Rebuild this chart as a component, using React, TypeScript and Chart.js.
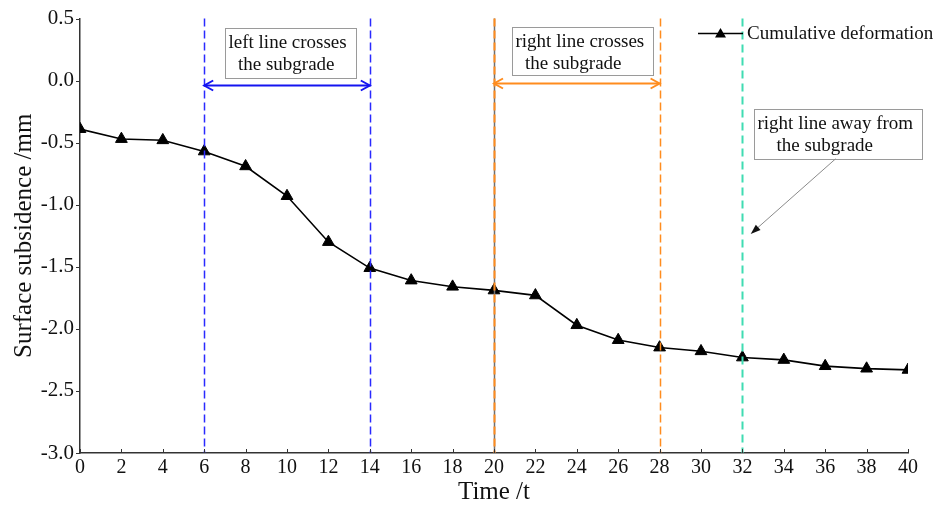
import React, { useEffect, useRef } from "react";
import { Chart, registerables } from "chart.js";

Chart.register(...registerables);

// ---- data ----
const timeSteps = [0, 2, 4, 6, 8, 10, 12, 14, 16, 18, 20, 22, 24, 26, 28, 30, 32, 34, 36, 38, 40];
const cumulativeDeformation = [
  -0.39, -0.47, -0.48, -0.57, -0.69, -0.93, -1.3, -1.51, -1.61, -1.66, -1.69,
  -1.73, -1.97, -2.09, -2.15, -2.18, -2.23, -2.25, -2.3, -2.32, -2.33,
];
const seriesLabel = "Cumulative deformation";
const xTitle = "Time /t";
const yTitle = "Surface subsidence /mm";

// phase boundaries (time values)
const blueLines = [6, 14];
const orangeSolidLines = [20];
const orangeDashedLines = [28];
const turquoiseLines = [32];

// span arrows: [from, to, y]
const leftSpan = [6, 14, -0.035];
const rightSpan = [20, 28, -0.015];

// note boxes: [x0, x1, yTop, yBottom]
const leftNoteBox = [7.0, 13.33, 0.428, 0.025];
const leftNoteText = ["left line crosses", "  the subgrade"];
const rightNoteBox = [20.87, 27.68, 0.436, 0.043];
const rightNoteText = ["right line crosses", "  the subgrade"];
const awayNoteBox = [32.56, 40.68, -0.23, -0.63];
const awayNoteText = ["right line away from", "    the subgrade"];
// pointer arrow: [x0, y0, x1, y1]
const awayPointer = [36.5, -0.63, 32.4, -1.235];

const SERIF = '"Liberation Serif", "Times New Roman", Times, serif';
const BLUE = "#2a2aff";
const BLUE_ARROW = "#1414f0";
const ORANGE = "#ff8c1e";
const TURQ = "#3fdcb2";

function openHead(ctx: CanvasRenderingContext2D, tx: number, ty: number, dir: number) {
  ctx.beginPath();
  ctx.moveTo(tx - dir * 9, ty - 5);
  ctx.lineTo(tx, ty);
  ctx.lineTo(tx - dir * 9, ty + 5);
  ctx.stroke();
}

const annotationPlugin = {
  id: "phaseAnnotations",
  afterDatasetsDraw(chart: any) {
    const { ctx } = chart;
    const xs = chart.scales.x;
    const ys = chart.scales.y;
    const top = ys.getPixelForValue(0.5);
    const bottom = ys.getPixelForValue(-3);
    ctx.save();

    const vline = (v: number, color: string, width: number, dash: number[]) => {
      const px = Math.round(xs.getPixelForValue(v)) + 0.5;
      ctx.strokeStyle = color;
      ctx.lineWidth = width;
      ctx.setLineDash(dash);
      ctx.beginPath();
      ctx.moveTo(px, top);
      ctx.lineTo(px, bottom);
      ctx.stroke();
    };
    blueLines.forEach((v) => vline(v, BLUE, 1.5, [8, 4]));
    orangeSolidLines.forEach((v) => {
      vline(v, "#707070", 1.5, []);
      vline(v, ORANGE, 2, [8, 4]);
    });
    orangeDashedLines.forEach((v) => vline(v, ORANGE, 1.5, [8, 4]));
    turquoiseLines.forEach((v) => vline(v, TURQ, 2, [8, 5]));
    ctx.setLineDash([]);

    // span arrows
    const span = (s: number[], color: string) => {
      const x0 = xs.getPixelForValue(s[0]);
      const x1 = xs.getPixelForValue(s[1]);
      const py = Math.round(ys.getPixelForValue(s[2])) + 0.5;
      ctx.strokeStyle = color;
      ctx.lineWidth = 2;
      ctx.beginPath();
      ctx.moveTo(x0, py);
      ctx.lineTo(x1, py);
      ctx.stroke();
      openHead(ctx, x0, py, -1);
      openHead(ctx, x1, py, 1);
    };
    span(leftSpan, BLUE_ARROW);
    span(rightSpan, ORANGE);

    // note boxes
    const note = (b: number[], lines: string[]) => {
      const x0 = Math.round(xs.getPixelForValue(b[0])) + 0.5;
      const x1 = Math.round(xs.getPixelForValue(b[1])) + 0.5;
      const y0 = Math.round(ys.getPixelForValue(b[2])) + 0.5;
      const y1 = Math.round(ys.getPixelForValue(b[3])) + 0.5;
      ctx.fillStyle = "#ffffff";
      ctx.fillRect(x0, y0, x1 - x0, y1 - y0);
      ctx.strokeStyle = "#9a9a9a";
      ctx.lineWidth = 1;
      ctx.strokeRect(x0, y0, x1 - x0, y1 - y0);
      ctx.fillStyle = "#111111";
      ctx.font = `19px ${SERIF}`;
      ctx.textAlign = "left";
      ctx.textBaseline = "middle";
      lines.forEach((t, i) => {
        ctx.fillText(t, x0 + 3, y0 + 14.5 + i * 22.5);
      });
    };
    note(leftNoteBox, leftNoteText);
    note(rightNoteBox, rightNoteText);
    note(awayNoteBox, awayNoteText);

    // pointer arrow
    const ax0 = xs.getPixelForValue(awayPointer[0]);
    const ay0 = ys.getPixelForValue(awayPointer[1]);
    const ax1 = xs.getPixelForValue(awayPointer[2]);
    const ay1 = ys.getPixelForValue(awayPointer[3]);
    const ang = Math.atan2(ay1 - ay0, ax1 - ax0);
    ctx.strokeStyle = "#8a8a8a";
    ctx.lineWidth = 1;
    ctx.beginPath();
    ctx.moveTo(ax0, ay0);
    ctx.lineTo(ax1 - Math.cos(ang) * 6, ay1 - Math.sin(ang) * 6);
    ctx.stroke();
    ctx.fillStyle = "#111111";
    ctx.beginPath();
    ctx.moveTo(ax1, ay1);
    ctx.lineTo(
      ax1 - Math.cos(ang) * 10 + Math.sin(ang) * 3.5,
      ay1 - Math.sin(ang) * 10 - Math.cos(ang) * 3.5
    );
    ctx.lineTo(
      ax1 - Math.cos(ang) * 10 - Math.sin(ang) * 3.5,
      ay1 - Math.sin(ang) * 10 + Math.cos(ang) * 3.5
    );
    ctx.closePath();
    ctx.fill();

    ctx.restore();
  },
  afterDraw(chart: any) {
    const { ctx, chartArea } = chart;
    const xs = chart.scales.x;
    const ys = chart.scales.y;
    ctx.save();
    // axis ticks: inward on x, outward on y
    ctx.strokeStyle = "#333333";
    ctx.lineWidth = 1;
    ctx.beginPath();
    xs.ticks.forEach((t: any) => {
      const px = Math.round(xs.getPixelForValue(t.value)) + 0.5;
      ctx.moveTo(px, chartArea.bottom);
      ctx.lineTo(px, chartArea.bottom - 4);
    });
    ys.ticks.forEach((t: any) => {
      const py = Math.round(ys.getPixelForValue(t.value)) + 0.5;
      ctx.moveTo(chartArea.left, py);
      ctx.lineTo(chartArea.left - 4, py);
    });
    ctx.stroke();

    // legend
    const ly = chartArea.top + 15;
    const lx0 = chartArea.right - 210;
    const lx1 = lx0 + 45;
    ctx.strokeStyle = "#000000";
    ctx.lineWidth = 1.5;
    ctx.beginPath();
    ctx.moveTo(lx0, ly);
    ctx.lineTo(lx1, ly);
    ctx.stroke();
    const cx = (lx0 + lx1) / 2;
    ctx.fillStyle = "#000000";
    ctx.beginPath();
    ctx.moveTo(cx, ly - 5.5);
    ctx.lineTo(cx + 5.5, ly + 4);
    ctx.lineTo(cx - 5.5, ly + 4);
    ctx.closePath();
    ctx.fill();
    ctx.fillStyle = "#111111";
    ctx.font = `19px ${SERIF}`;
    ctx.textAlign = "left";
    ctx.textBaseline = "middle";
    ctx.fillText(seriesLabel, lx1 + 4, ly);
    ctx.restore();
  },
};

export default function App() {
  const canvasRef = useRef<HTMLCanvasElement | null>(null);

  useEffect(() => {
    if (!canvasRef.current) return;
    const chart = new Chart(canvasRef.current, {
      type: "line",
      data: {
        datasets: [
          {
            label: seriesLabel,
            data: timeSteps.map((t, i) => ({ x: t, y: cumulativeDeformation[i] })),
            borderColor: "#000000",
            backgroundColor: "#000000",
            borderWidth: 1.6,
            pointStyle: "triangle",
            pointRadius: 6.8,
            pointBorderWidth: 1,
            pointBackgroundColor: "#000000",
            pointBorderColor: "#000000",
            tension: 0,
            fill: false,
          },
        ],
      },
      options: {
        responsive: false,
        animation: false,
        devicePixelRatio: 1,
        layout: { padding: { left: 0, right: 39, top: 17, bottom: 0 } },
        plugins: {
          legend: { display: false },
          tooltip: { enabled: false },
          title: { display: false },
        },
        scales: {
          x: {
            type: "linear",
            min: 0,
            max: 40,
            grid: { display: false, drawTicks: false },
            border: { display: true, color: "#333333", width: 1.5 },
            ticks: {
              stepSize: 2,
              autoSkip: false,
              maxRotation: 0,
              padding: 3,
              color: "#111111",
              font: { family: SERIF, size: 20 },
            },
            title: {
              display: true,
              text: xTitle,
              color: "#111111",
              font: { family: SERIF, size: 25, lineHeight: 1 },
              padding: { top: 0, bottom: 0 },
            },
            afterFit: (scale: any) => {
              scale.height = 52;
            },
          },
          y: {
            type: "linear",
            min: -3,
            max: 0.5,
            grid: { display: false, drawTicks: false },
            border: { display: true, color: "#333333", width: 1.5 },
            ticks: {
              stepSize: 0.5,
              autoSkip: false,
              padding: 6,
              color: "#111111",
              font: { family: SERIF, size: 21 },
              callback: (v: any) => Number(v).toFixed(1),
            },
            title: {
              display: true,
              text: yTitle,
              color: "#111111",
              font: { family: SERIF, size: 25, lineHeight: 1 },
              padding: { top: 12, bottom: 0 },
            },
            afterFit: (scale: any) => {
              scale.width = 80;
            },
          },
        },
      },
      plugins: [annotationPlugin],
    } as any);
    return () => chart.destroy();
  }, []);

  return (
    <div style={{ position: "fixed", left: 0, top: 0, width: 947, height: 505, background: "#ffffff" }}>
      <canvas ref={canvasRef} width={947} height={505} style={{ display: "block" }} />
    </div>
  );
}
